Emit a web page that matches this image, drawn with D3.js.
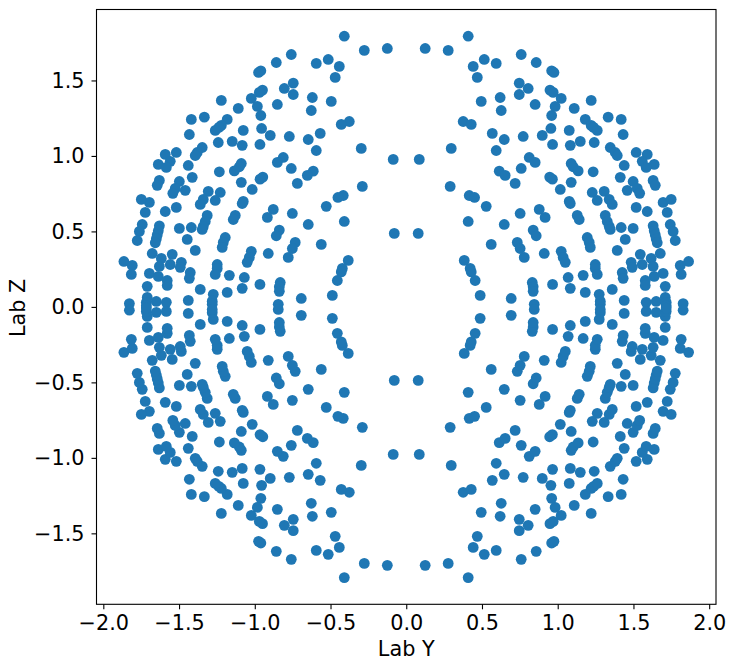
<!DOCTYPE html>
<html><head><meta charset="utf-8">
<style>html,body{margin:0;background:#fff}svg{display:block}text{font-family:"DejaVu Sans"}</style>
<script src="https://cdn.jsdelivr.net/npm/d3@7/dist/d3.min.js"></script></head><body><script>
const labYRight=[.409,.125,.277,.759,.515,.594,.442,.858,.960,.975,.469,.746,.805,.746,.949,.970,.620,.495,.851,.627,.960,.376,.429,.955,.568,.647,.772,.898,.966,.297,.594,.086,.812,.851,.759,.614,.653,1.023,1.221,.983,1.109,1.182,1.333,1.419,1.221,1.237,1.261,1.076,1.432,1.149,1.083,1.241,1.347,1.380,1.393,1.518,1.591,1.558,1.637,1.439,1.584,1.089,1.102,1.135,1.234,.719,.947,.965,.290,.416,.451,.528,.878,.917,.752,.409,.647,.079,.838,.858,.561,.733,.752,.779,.911,.383,.422,.429,.455,.832,.838,.838,.966,.488,.693,.845,1.413,1.498,1.630,1.644,1.089,1.017,1.228,1.307,1.459,1.525,1.541,1.261,1.340,1.360,1.076,1.083,1.696,1.749,1.518,1.591,1.723,1.129,1.142,1.314,1.327,1.340,1.347,1.419,1.498,1.630,1.637,1.644,1.650,1.657,1.743,1.762,1.776,1.195,1.208,1.215,1.446,1.393,1.023,1.036,1.050,1.545,1.677,1.617,1.485,1.492,1.558,1.630,1.864,1.809,1.815,1.248,1.248,1.261,1.426,1.432,1.168,1.069,1.696,1.637,1.578,1.578,1.710,1.083,1.182,1.360,1.274,1.281,1.439,1.584,1.650,1.710,1.716,1.828,1.281,1.716];
const labYLeft=[-.409,-.125,-.277,-.759,-.515,-.594,-.442,-.858,-.960,-.975,-.469,-.746,-.805,-.746,-.949,-.970,-.620,-.495,-.851,-.627,-.960,-.376,-.429,-.955,-.568,-.647,-.772,-.898,-.966,-.297,-.594,-.086,-.812,-.851,-.759,-.614,-.653,-1.023,-1.221,-.983,-1.109,-1.182,-1.333,-1.419,-1.221,-1.237,-1.261,-1.076,-1.432,-1.149,-1.083,-1.241,-1.347,-1.380,-1.393,-1.518,-1.591,-1.558,-1.637,-1.439,-1.584,-1.089,-1.102,-1.135,-1.234,-.719,-.947,-.965,-.290,-.416,-.451,-.528,-.878,-.917,-.752,-.409,-.647,-.079,-.838,-.858,-.561,-.733,-.752,-.779,-.911,-.383,-.422,-.429,-.455,-.832,-.838,-.838,-.966,-.488,-.693,-.845,-1.413,-1.498,-1.630,-1.644,-1.089,-1.017,-1.228,-1.307,-1.459,-1.525,-1.541,-1.261,-1.340,-1.360,-1.076,-1.083,-1.696,-1.749,-1.518,-1.591,-1.723,-1.129,-1.142,-1.314,-1.327,-1.340,-1.347,-1.419,-1.498,-1.630,-1.637,-1.644,-1.650,-1.657,-1.743,-1.762,-1.776,-1.195,-1.208,-1.215,-1.446,-1.393,-1.023,-1.036,-1.050,-1.545,-1.677,-1.617,-1.485,-1.492,-1.558,-1.630,-1.864,-1.809,-1.815,-1.248,-1.248,-1.261,-1.426,-1.432,-1.168,-1.069,-1.696,-1.637,-1.578,-1.578,-1.710,-1.083,-1.182,-1.360,-1.274,-1.281,-1.439,-1.584,-1.650,-1.710,-1.716,-1.828,-1.281,-1.716];
const labZUpper=[1.793,1.712,1.699,1.672,1.639,1.613,1.593,1.619,1.564,1.553,1.520,1.482,1.447,1.407,1.436,1.421,1.387,1.361,1.341,1.301,1.268,1.228,1.209,1.182,1.149,1.109,1.129,1.136,1.076,1.050,1.036,.977,.990,.957,.917,.899,.871,1.381,1.368,1.328,1.315,1.242,1.257,1.242,1.202,1.189,1.169,1.169,1.142,1.096,1.070,1.089,1.056,1.023,1.003,1.023,1.010,.964,.944,.937,.924,.950,.928,.901,.895,.818,.860,.846,.798,.738,.725,.666,.646,.593,.619,.566,.546,.487,.509,.471,.414,.427,.387,.328,.354,.308,.255,.232,.175,.162,.133,.103,.149,.076,.056,.017,.858,.831,.838,.805,.825,.778,.758,.765,.772,.785,.752,.705,.712,.679,.699,.685,.692,.712,.659,.632,.626,.606,.579,.606,.566,.533,.513,.526,.520,.537,.504,.477,.451,.425,.546,.500,.440,.460,.427,.394,.447,.374,.368,.328,.295,.348,.354,.321,.295,.262,.281,.268,.301,.275,.215,.281,.255,.215,.228,.189,.209,.195,.222,.202,.175,.142,.136,.123,.096,.116,.083,.038,.043,.030,.036,.063,.030,.022,.018,.008];
const labZLower=[-1.793,-1.712,-1.699,-1.672,-1.639,-1.613,-1.593,-1.619,-1.564,-1.553,-1.520,-1.482,-1.447,-1.407,-1.436,-1.421,-1.387,-1.361,-1.341,-1.301,-1.268,-1.228,-1.209,-1.182,-1.149,-1.109,-1.129,-1.136,-1.076,-1.050,-1.036,-.977,-.990,-.957,-.917,-.899,-.871,-1.381,-1.368,-1.328,-1.315,-1.242,-1.257,-1.242,-1.202,-1.189,-1.169,-1.169,-1.142,-1.096,-1.070,-1.089,-1.056,-1.023,-1.003,-1.023,-1.010,-.964,-.944,-.937,-.924,-.950,-.928,-.901,-.895,-.818,-.860,-.846,-.798,-.738,-.725,-.666,-.646,-.593,-.619,-.566,-.546,-.487,-.509,-.471,-.414,-.427,-.387,-.328,-.354,-.308,-.255,-.232,-.175,-.162,-.133,-.103,-.149,-.076,-.056,-.017,-.858,-.831,-.838,-.805,-.825,-.778,-.758,-.765,-.772,-.785,-.752,-.705,-.712,-.679,-.699,-.685,-.692,-.712,-.659,-.632,-.626,-.606,-.579,-.606,-.566,-.533,-.513,-.526,-.520,-.537,-.504,-.477,-.451,-.425,-.546,-.500,-.440,-.460,-.427,-.394,-.447,-.374,-.368,-.328,-.295,-.348,-.354,-.321,-.295,-.262,-.281,-.268,-.301,-.275,-.215,-.281,-.255,-.215,-.228,-.189,-.209,-.195,-.222,-.202,-.175,-.142,-.136,-.123,-.096,-.116,-.083,-.038,-.043,-.030,-.036,-.063,-.030,-.022,-.018,-.008];
const xTicks=[-2,-1.5,-1,-.5,0,.5,1,1.5,2], yTicks=[-1.5,-1,-.5,0,.5,1,1.5];
const W=735,H=669,L=96.5,R=716,T=9.5,B=604.3,FS=20.8;
const x=d3.scaleLinear().domain([-2.045,2.045]).range([L,R]);
const y=d3.scaleLinear().domain([-1.97,1.97]).range([B,T]);
const fmt=d=>d3.format(".1f")(d).replace("-","\u2212");
const svg=d3.select("body").append("svg").attr("width",W).attr("height",H);
const pts=[];
[labYRight,labYLeft].forEach(ys=>[labZUpper,labZLower].forEach(zs=>ys.forEach((v,i)=>pts.push([v,zs[i]]))));
svg.append("g").selectAll("circle").data(pts).join("circle").attr("cx",d=>x(d[0])).attr("cy",d=>y(d[1])).attr("r",5.4).attr("fill","#1f77b4");
const ax=svg.append("g").attr("transform",`translate(0,${B})`).call(d3.axisBottom(x).tickValues(xTicks).tickFormat(fmt).tickSize(5).tickPadding(6));
const ay=svg.append("g").attr("transform",`translate(${L},0)`).call(d3.axisLeft(y).tickValues(yTicks).tickFormat(fmt).tickSize(5).tickPadding(7));
[ax,ay].forEach(g=>{g.select(".domain").remove();g.selectAll("text").attr("font-size",FS).attr("fill","#000").attr("font-family","DejaVu Sans");g.selectAll("line").attr("stroke","#000").attr("stroke-width",1.1);});
svg.append("rect").attr("x",L).attr("y",T).attr("width",R-L).attr("height",B-T).attr("fill","none").attr("stroke","#000").attr("stroke-width",1.1);
svg.append("text").attr("x",(L+R)/2).attr("y",656).attr("text-anchor","middle").attr("font-size",FS).text("Lab Y");
svg.append("text").attr("transform",`translate(25,${(T+B)/2+1}) rotate(-90)`).attr("text-anchor","middle").attr("font-size",FS).text("Lab Z");
</script></body></html>
